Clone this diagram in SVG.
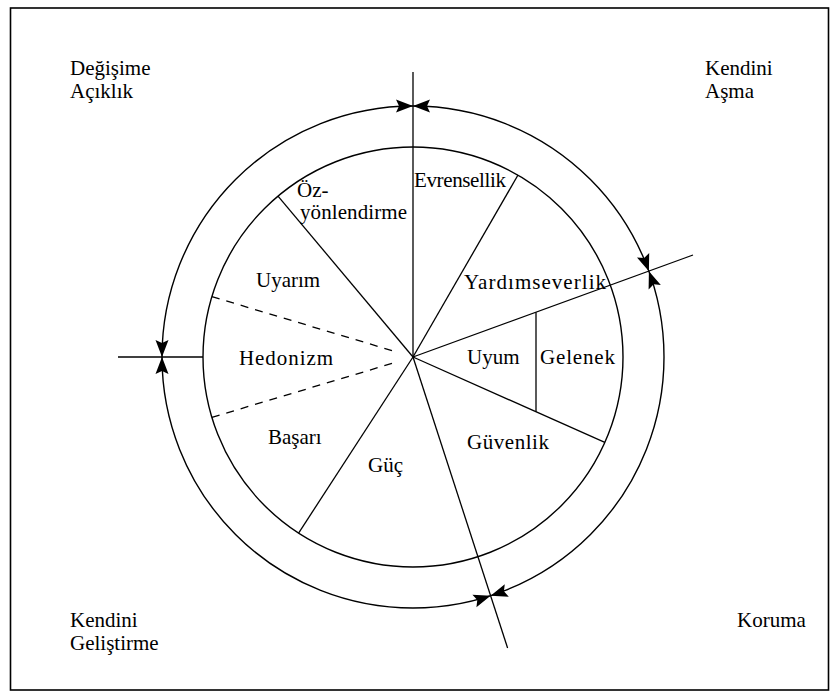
<svg xmlns="http://www.w3.org/2000/svg" xmlns:xlink="http://www.w3.org/1999/xlink" width="834" height="692" viewBox="0 0 834 692">
<style>
.t{font-family:'Liberation Serif','Times New Roman',serif;font-size:21px;fill:#000}
.ln{stroke:#000;stroke-width:1.3;fill:none}
.ds{stroke:#000;stroke-width:1.3;fill:none;stroke-dasharray:8 7}
.circ{stroke:#000;stroke-width:1.4;fill:none}
</style>
<defs>
<polygon id="ah" points="0,0 -17,-6.5 -14,0 -17,6.5" fill="#000"/>
</defs>
<rect x="0" y="0" width="834" height="692" fill="#fff"/>
<rect x="10.5" y="8" width="818" height="682" fill="none" stroke="#000" stroke-width="1.6"/>
<g id="circles">
<circle class="circ" cx="413" cy="357" r="251"/>
<circle class="circ" cx="413" cy="357" r="210"/>
</g>
<g id="connectors">
<line class="ln" x1="413" y1="72" x2="413" y2="357" stroke-width="1.8"/>
<line class="ln" x1="413" y1="357" x2="693" y2="255"/>
<line class="ln" x1="413" y1="357" x2="507.6" y2="648"/>
<line class="ln" x1="118" y1="357" x2="203" y2="357"/>
<line class="ln" x1="413" y1="357" x2="518" y2="175"/>
<line class="ln" x1="413" y1="357" x2="604.8" y2="442.4"/>
<line class="ln" x1="413" y1="357" x2="298.6" y2="533.1"/>
<line class="ln" x1="413" y1="357" x2="278" y2="196.1"/>
<line class="ln" x1="536" y1="312.2" x2="536" y2="411.8"/>
<line class="ds" x1="211.9" y1="296.6" x2="395" y2="351.5"/>
<line class="ds" x1="211.9" y1="417.4" x2="395" y2="362.5"/>
<use xlink:href="#ah" transform="translate(413,106) rotate(0)"/>
<use xlink:href="#ah" transform="translate(413,106) rotate(180)"/>
<use xlink:href="#ah" transform="translate(162,357) rotate(90)"/>
<use xlink:href="#ah" transform="translate(162,357) rotate(-90)"/>
<use xlink:href="#ah" transform="translate(648.9,271.2) rotate(70)"/>
<use xlink:href="#ah" transform="translate(648.9,271.2) rotate(250)"/>
<use xlink:href="#ah" transform="translate(490.6,595.7) rotate(162)"/>
<use xlink:href="#ah" transform="translate(490.6,595.7) rotate(-18)"/>
</g>
<g id="degisime-aciklik"><text class="t" x="70" y="75">Değişime</text><text class="t" x="70" y="98">Açıklık</text></g>
<g id="kendini-asma"><text class="t" x="705" y="75">Kendini</text><text class="t" x="705" y="98">Aşma</text></g>
<g id="kendini-gelistirme"><text class="t" x="70" y="627">Kendini</text><text class="t" x="70" y="650">Geliştirme</text></g>
<g id="koruma"><text class="t" x="737" y="627">Koruma</text></g>
<g id="oz-yonlendirme"><text class="t" x="297" y="197">Öz-</text><text class="t" x="300" y="219" textLength="107" lengthAdjust="spacing">yönlendirme</text></g>
<g id="evrensellik"><text class="t" x="414" y="187" textLength="92" lengthAdjust="spacing">Evrensellik</text></g>
<g id="yardimseverlik"><text class="t" x="464" y="289" textLength="142" lengthAdjust="spacing">Yardımseverlik</text></g>
<g id="uyarim"><text class="t" x="256" y="287">Uyarım</text></g>
<g id="hedonizm"><text class="t" x="239" y="365" textLength="94" lengthAdjust="spacing">Hedonizm</text></g>
<g id="uyum"><text class="t" x="467" y="364">Uyum</text></g>
<g id="gelenek"><text class="t" x="540" y="364" textLength="75" lengthAdjust="spacing">Gelenek</text></g>
<g id="basari"><text class="t" x="268" y="444">Başarı</text></g>
<g id="guvenlik"><text class="t" x="467" y="449" textLength="82" lengthAdjust="spacing">Güvenlik</text></g>
<g id="guc"><text class="t" x="368" y="472">Güç</text></g>
</svg>
